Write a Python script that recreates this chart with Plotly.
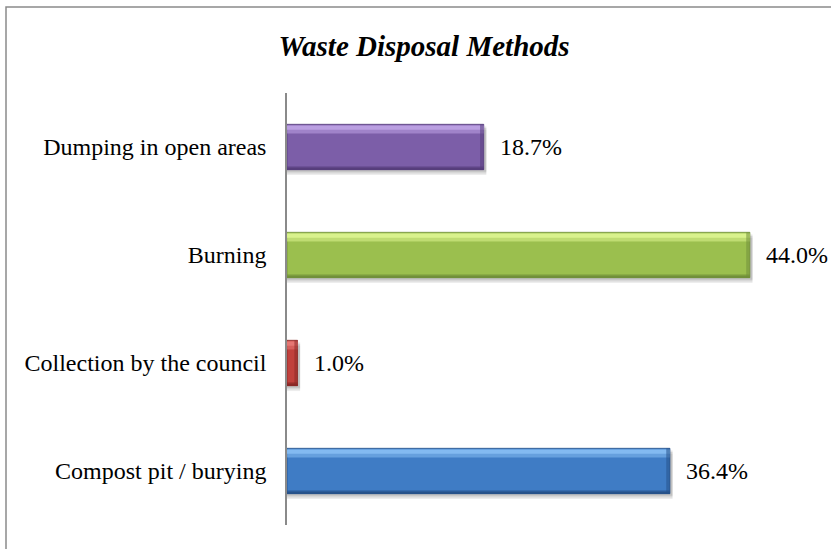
import plotly.graph_objects as go

# Chart data
methods = ["Compost pit / burying", "Collection by the council", "Burning", "Dumping in open areas"]
shares = [36.4, 1.0, 44.0, 18.7]
value_labels = ["36.4%", "1.0%", "44.0%", "18.7%"]

# Bevel palette per bar: (highlight, body, shade)
palette = [
    ("#86bdf3", "#3f7cc5", "#27528a"),
    ("#e77a76", "#c0403c", "#8a2826"),
    ("#dcf48f", "#9bbf4e", "#71903a"),
    ("#bda2e3", "#7c5ea8", "#573e7c"),
]

W = 0.42
H0 = -W / 2
FONT = "Liberation Serif, Times New Roman, serif"

fig = go.Figure()

# soft drop shadow under each bar
for dy, a in [(-0.05, 0.07), (-0.035, 0.09), (-0.02, 0.10)]:
    fig.add_trace(go.Bar(
        y=methods, x=[v + 0.25 for v in shares], orientation="h",
        width=W, offset=H0 + dy,
        marker=dict(color=f"rgba(0,0,0,{a})", line=dict(width=0)),
        hoverinfo="skip", showlegend=False,
    ))

# bar body
fig.add_trace(go.Bar(
    y=methods, x=shares, orientation="h", width=W, offset=H0,
    marker=dict(color=[p[1] for p in palette], line=dict(color=[p[2] for p in palette], width=0.8)),
    showlegend=False,
))

# lower shading bands (darker towards the bottom edge)
for frac, off, h in [(0.35, 0.0, 0.03), (0.6, 0.0, 0.014)]:
    fig.add_trace(go.Bar(
        y=methods, x=shares, orientation="h", width=h, offset=H0 + off,
        marker=dict(color=[p[2] for p in palette], opacity=frac + 0.4, line=dict(width=0)),
        hoverinfo="skip", showlegend=False,
    ))

# upper highlight bands
fig.add_trace(go.Bar(
    y=methods, x=shares, orientation="h", width=0.075, offset=W / 2 - 0.085,
    marker=dict(color=[p[0] for p in palette], opacity=0.55, line=dict(width=0)),
    hoverinfo="skip", showlegend=False,
))
fig.add_trace(go.Bar(
    y=methods, x=shares, orientation="h", width=0.04, offset=W / 2 - 0.05,
    marker=dict(color=[p[0] for p in palette], opacity=0.9, line=dict(width=0)),
    hoverinfo="skip", showlegend=False,
))

# darker bevel at the right end of each bar
fig.add_trace(go.Bar(
    y=methods, x=[min(0.35, v * 0.3) for v in shares],
    base=[v - min(0.35, v * 0.3) for v in shares], orientation="h",
    width=W, offset=H0,
    marker=dict(color=[p[2] for p in palette], opacity=0.55, line=dict(width=0)),
    hoverinfo="skip", showlegend=False,
))

# value labels
for m, v, t in zip(methods, shares, value_labels):
    fig.add_annotation(
        x=v, y=m, text=t, showarrow=False, xanchor="left", yanchor="middle",
        xshift=14, font=dict(family=FONT, size=24, color="#000000"),
    )

# outer frame
fig.add_shape(
    type="rect", xref="paper", yref="paper",
    x0=(6 - 287) / 526, x1=(845 - 287) / 526,
    y0=(525 - 560) / 432, y1=(525 - 7) / 432,
    line=dict(color="#8a8a8a", width=1.5), layer="below",
)

fig.update_layout(
    width=831, height=549,
    margin=dict(l=287, r=18, t=93, b=24),
    barmode="overlay",
    paper_bgcolor="white", plot_bgcolor="white",
    title=dict(
        text="<b><i>Waste Disposal Methods</i></b>",
        x=424 / 831, xanchor="center",
        y=1 - 46 / 549, yanchor="middle", yref="container",
        font=dict(family=FONT, size=29, color="#000000"),
    ),
    xaxis=dict(range=[0, 50], visible=False, showgrid=False, zeroline=False, fixedrange=True),
    yaxis=dict(
        type="category", categoryorder="array", categoryarray=methods,
        range=[-0.5, 3.5],
        showline=True, linecolor="#8a8a8a", linewidth=1.5,
        ticks="", ticklabelstandoff=14, showgrid=False, zeroline=False,
        tickfont=dict(family=FONT, size=24, color="#000000"),
    ),
    font=dict(family=FONT),
)

fig.write_html("out.html")
